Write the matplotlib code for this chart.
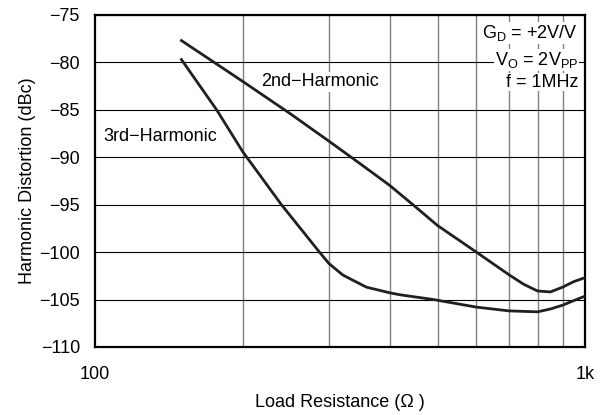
import matplotlib.pyplot as plt
from matplotlib.ticker import FixedLocator, NullFormatter

plt.rcParams['font.family'] = ['Liberation Sans', 'DejaVu Sans']
plt.rcParams['mathtext.fontset'] = 'custom'
plt.rcParams['mathtext.rm'] = 'Liberation Sans'

# load resistance (ohm) and distortion (dBc)
r_2nd = [150, 200, 250, 300, 350, 400, 450, 500, 600, 700, 750, 800, 850, 900, 950, 1000]
hd_2nd = [-77.7, -82.0, -85.4, -88.3, -90.8, -93.0, -95.2, -97.2, -100.0,
          -102.4, -103.4, -104.1, -104.2, -103.7, -103.1, -102.7]

r_3rd = [150, 177, 200, 240, 287, 300, 320, 331, 358, 400, 419, 490, 600, 700, 800,
         850, 900, 950, 1000]
hd_3rd = [-79.7, -85.0, -89.4, -95.0, -100.0, -101.2, -102.4, -102.8, -103.7, -104.3,
          -104.5, -105.0, -105.8, -106.2, -106.3, -106.0, -105.6, -105.1, -104.65]

fig = plt.figure(figsize=(6.1, 4.15), dpi=100)
ax = fig.add_axes([0.156, 0.164, 0.803, 0.800])

ax.set_xscale('log')
ax.set_xlim(100, 1000)
ax.set_ylim(-110, -75)

ax.xaxis.set_major_locator(FixedLocator([100, 1000]))
ax.set_xticklabels(['100', '1k'])
ax.xaxis.set_minor_locator(FixedLocator([200, 300, 400, 500, 600, 700, 800, 900]))
ax.xaxis.set_minor_formatter(NullFormatter())
ax.set_yticks(range(-110, -74, 5))
ax.set_yticklabels(['\u2212%d' % abs(v) for v in range(-110, -74, 5)])

ax.grid(True, which='major', axis='y', color='black', lw=0.8)
ax.grid(True, which='minor', axis='x', color='#808080', lw=1.0)
ax.tick_params(which='both', length=0, labelsize=13)
ax.tick_params(axis='x', pad=14)
ax.tick_params(axis='y', pad=11)
for s in ax.spines.values():
    s.set_linewidth(1.6)

ax.plot(r_2nd, hd_2nd, color='#231f20', lw=2.0, zorder=3)
ax.plot(r_3rd, hd_3rd, color='#231f20', lw=2.0, zorder=3)

ax.text(218, -82.5, '2nd\u2212Harmonic', fontsize=13, va='baseline', ha='left',
        bbox=dict(fc='white', ec='none', pad=1))
ax.text(104, -88.3, '3rd\u2212Harmonic', fontsize=13, va='baseline', ha='left',
        bbox=dict(fc='white', ec='none', pad=1))

box = dict(fc='white', ec='none', pad=0.5)
ax.text(0.986, 0.930, r'G$_\mathregular{D}$ = +2V/V', transform=ax.transAxes,
        ha='right', va='baseline', fontsize=13, bbox=box)
ax.text(0.986, 0.849, r'V$_\mathregular{O}$ = 2V$_\mathregular{PP}$', transform=ax.transAxes,
        ha='right', va='baseline', fontsize=13, bbox=box)
ax.text(0.986, 0.784, 'f = 1MHz', transform=ax.transAxes,
        ha='right', va='baseline', fontsize=13, bbox=box)

ax.set_xlabel('Load Resistance (\u03a9 )', fontsize=13, labelpad=8)
ax.set_ylabel('Harmonic Distortion (dBc)', fontsize=13, labelpad=2)

fig.savefig('out.png', dpi=100)
